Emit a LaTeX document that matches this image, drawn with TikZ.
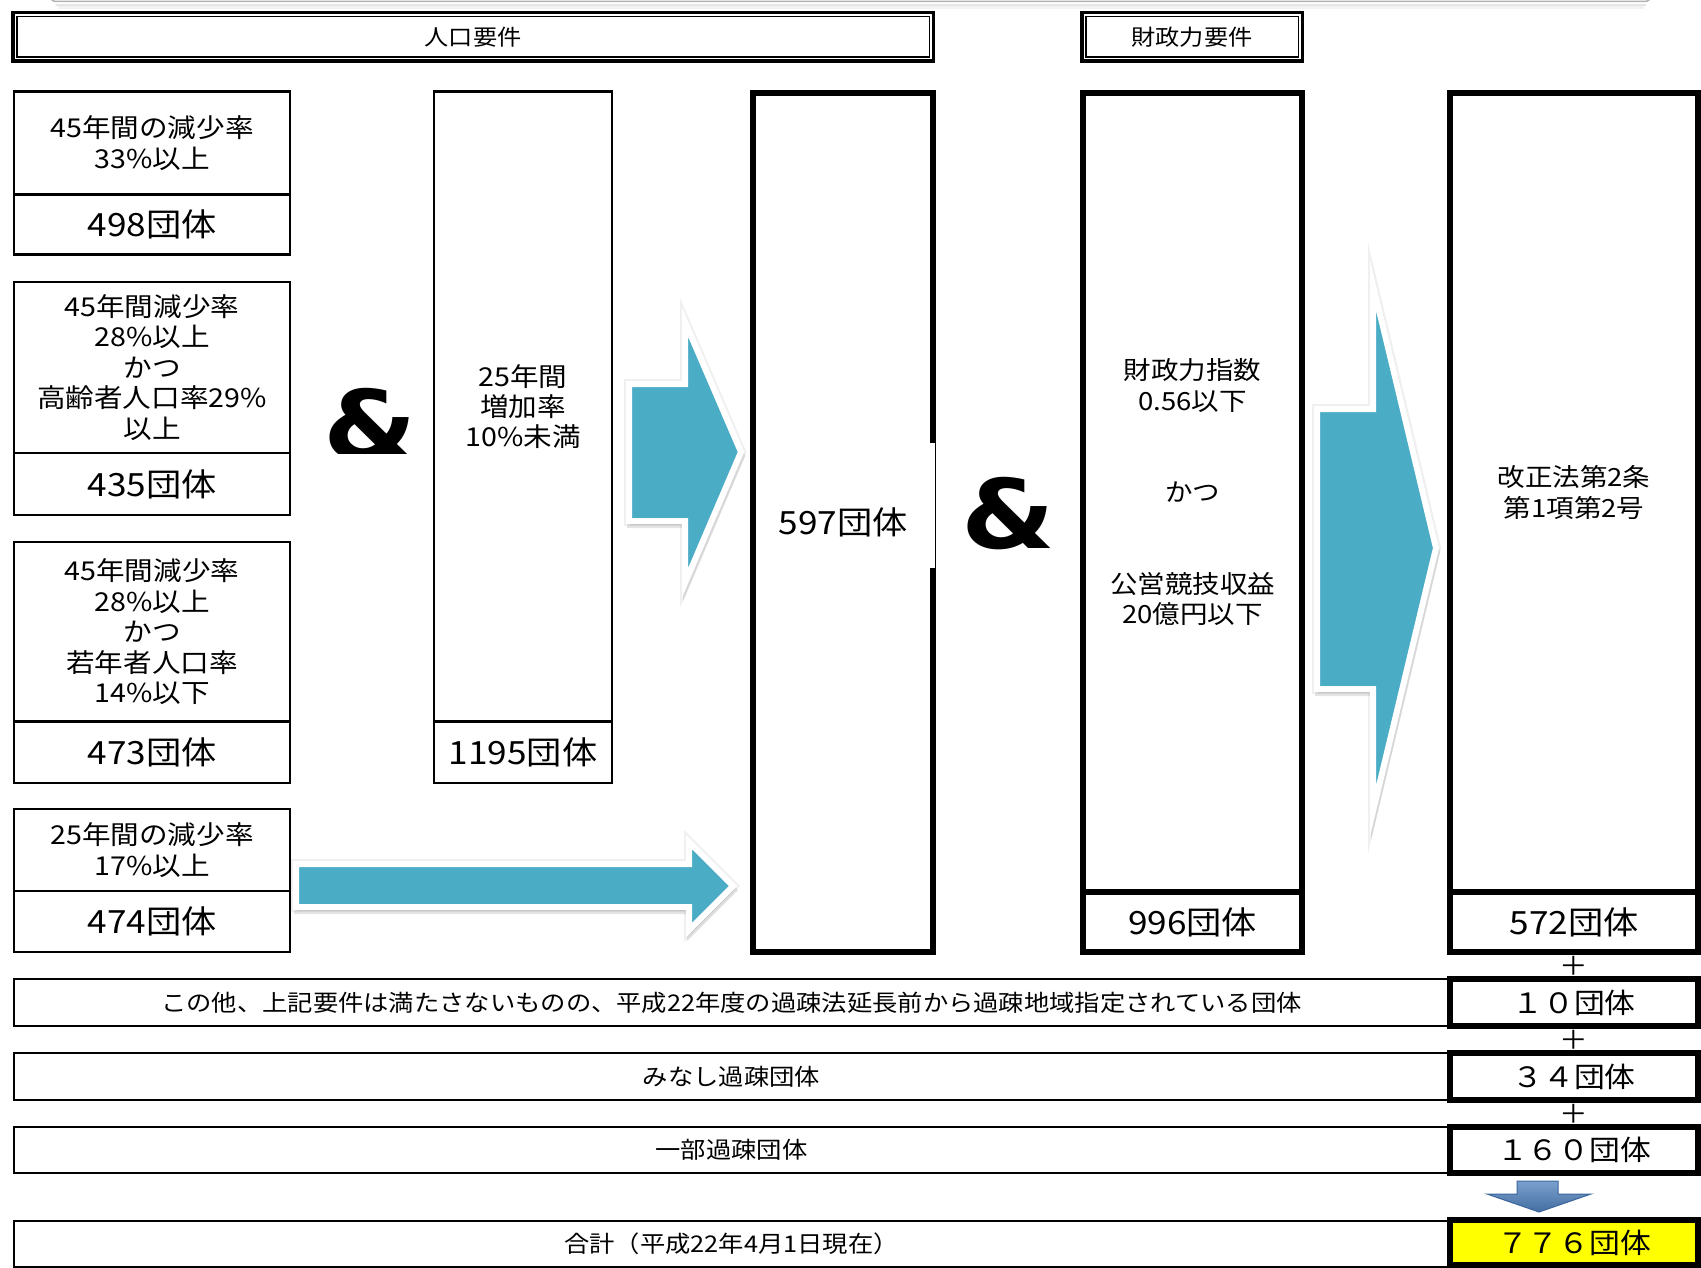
\documentclass[tikz,border=0pt]{standalone}
\usepackage{fontspec}
\setmainfont{Noto Sans CJK JP}[FakeStretch=1.1]
\newfontfamily\ampfont{DejaVu Sans}[FakeStretch=1.12]
\usetikzlibrary{calc}
\definecolor{arrowteal}{HTML}{4BACC6}
\definecolor{downblue}{HTML}{4F81BD}
\definecolor{downedge}{HTML}{3B679E}
\definecolor{hiyellow}{HTML}{FFFF00}
\newcommand\fsz[2]{\fontsize{#1}{#2}\selectfont}
\tikzset{
  thinbox/.style={draw=black, line width=2.5pt, fill=white, rectangle, inner sep=0pt, align=center},
  thickbox/.style={draw=black, line width=6pt, fill=white, rectangle, inner sep=0pt, align=center},
  headbox/.style={draw=black, line width=3.5pt, fill=white, rectangle, inner sep=0pt, align=center, font=\fsz{22}{26}},
  smalltxt/.style={font=\fsz{26}{30.4}},
  midtxt/.style={font=\fsz{25}{30.6}},
  bigtxt/.style={font=\fsz{32}{36}},
  rowtxt/.style={font=\fsz{23}{28}},
  sumtxt/.style={font=\fsz{28}{32}},
  blockarrow/.style={fill=arrowteal, draw=white, line width=6pt, line join=miter, miter limit=12},
  arrowshade/.style={fill=black, draw=black, line width=6pt, line join=miter, miter limit=12, opacity=0.10},
  arrowglow/.style={draw=black, line width=10pt, line join=miter, miter limit=12, opacity=0.06},
  ampsym/.style={font=\ampfont\bfseries\fsz{96}{96}, inner sep=0pt, anchor=base},
  plussym/.style={font=\fsz{26}{26}, inner sep=0pt}
}
\begin{document}
\begin{tikzpicture}[x=1pt,y=-1pt]
\useasboundingbox (0,0) rectangle (1701,1268);
\fill[white] (0,0) rectangle (1701,1268);

% top edge of a shape above (cut off)
\draw[black, opacity=0.10, line width=2.5pt] (56,5) -- (1646,5);
\draw[black, opacity=0.05, line width=2.5pt] (58,7.5) -- (1644,7.5);
\draw[gray!60, line width=1.5pt, rounded corners=6pt] (50,-30) -- (50,1.5) -- (1651,1.5) -- (1651,-30);

% headers
\node[headbox, minimum width=920.5pt, minimum height=48.5pt] (h1) at (473,37) {人口要件};
\draw[line width=1.5pt] ($(h1.north west)+(5.75,5.75)$) rectangle ($(h1.south east)+(-5.75,-5.75)$);
\node[headbox, minimum width=220.5pt, minimum height=48.5pt] (h2) at (1192,37) {財政力要件};
\draw[line width=1.5pt] ($(h2.north west)+(5.75,5.75)$) rectangle ($(h2.south east)+(-5.75,-5.75)$);

% left column
\node[thinbox, smalltxt, minimum width=276pt, minimum height=103pt] (l1a) at (152,143) {45年間の減少率\\33\%以上};
\node[thinbox, bigtxt, minimum width=276pt, minimum height=60pt] (l1b) at (152,224.5) {498団体};
\node[thinbox, smalltxt, minimum width=276pt, minimum height=171pt] (l2a) at (152,367.5) {45年間減少率\\28\%以上\\かつ\\高齢者人口率29\%\\以上};
\node[thinbox, bigtxt, minimum width=276pt, minimum height=62pt] (l2b) at (152,484) {435団体};
\node[thinbox, smalltxt, minimum width=276pt, minimum height=179.5pt] (l3a) at (152,631.75) {45年間減少率\\28\%以上\\かつ\\若年者人口率\\14\%以下};
\node[thinbox, bigtxt, minimum width=276pt, minimum height=61.5pt] (l3b) at (152,752.25) {473団体};
\node[thinbox, smalltxt, minimum width=276pt, minimum height=82pt] (l4a) at (152,850) {25年間の減少率\\17\%以上};
\node[thinbox, bigtxt, minimum width=276pt, minimum height=61pt] (l4b) at (152,921.5) {474団体};

% 1195 column
\node[thinbox, smalltxt, minimum width=178pt, minimum height=630pt] (m1a) at (523,406.5) {25年間\\増加率\\10\%未満};
\node[thinbox, bigtxt, minimum width=178pt, minimum height=61.5pt] (m1b) at (523,752.25) {1195団体};

% ampersand 1 (clipped at bottom)
\begin{scope}
\clip (300,360) rectangle (440,453.5);
\node[ampsym] (amp1) at (370,459) {\&};
\end{scope}

% 597 column
\node[thickbox, bigtxt, minimum width=180pt, minimum height=859pt] (c597) at (843,522.5) {597団体};
\fill[white] (928.5,443) rectangle (934.8,568);

% ampersand 2
\node[ampsym] (amp2) at (1008,548) {\&};

% 996 column
\node[thickbox, midtxt, minimum width=219pt, minimum height=799pt] (f996a) at (1192.5,492.5) {財政力指数\\0.56以下\\[60.8pt]かつ\\[60.8pt]公営競技収益\\20億円以下};
\node[thickbox, bigtxt, minimum width=219pt, minimum height=60pt] (f996b) at (1192.5,922) {996団体};

% 572 column
\node[thickbox, midtxt, minimum width=248pt, minimum height=799pt] (r572a) at (1574,492.5) {改正法第2条\\第1項第2号};
\node[thickbox, bigtxt, minimum width=248pt, minimum height=60pt] (r572b) at (1574,922) {572団体};

% block arrows
\path[arrowglow] (629,384) -- (685,384) -- (685,322) -- (741,452) -- (685,583) -- (685,521) -- (629,521) -- cycle;
\path[arrowshade, shift={(1,4)}] (629,384) -- (685,384) -- (685,322) -- (741,452) -- (685,583) -- (685,521) -- (629,521) -- cycle;
\path[blockarrow] (629,384) -- (685,384) -- (685,322) -- (741,452) -- (685,583) -- (685,521) -- (629,521) -- cycle;

\path[arrowglow] (1317,409) -- (1373,409) -- (1373,285) -- (1436,548) -- (1373,811) -- (1373,689) -- (1317,689) -- cycle;
\path[arrowshade, shift={(1,4)}] (1317,409) -- (1373,409) -- (1373,285) -- (1436,548) -- (1373,811) -- (1373,689) -- (1317,689) -- cycle;
\path[blockarrow] (1317,409) -- (1373,409) -- (1373,285) -- (1436,548) -- (1373,811) -- (1373,689) -- (1317,689) -- cycle;

\path[arrowglow] (296,864) -- (689,864) -- (689,842) -- (733,886) -- (689,930) -- (689,907) -- (296,907) -- cycle;
\path[arrowshade, shift={(1,4)}] (296,864) -- (689,864) -- (689,842) -- (733,886) -- (689,930) -- (689,907) -- (296,907) -- cycle;
\path[blockarrow] (296,864) -- (689,864) -- (689,842) -- (733,886) -- (689,930) -- (689,907) -- (296,907) -- cycle;

% bottom rows
\node[thinbox, rowtxt, minimum width=1435pt, minimum height=47pt] (row1) at (731.5,1002.5) {この他、上記要件は満たさないものの、平成22年度の過疎法延長前から過疎地域指定されている団体};
\node[thinbox, rowtxt, minimum width=1435pt, minimum height=47pt] (row2) at (731.5,1076.5) {みなし過疎団体};
\node[thinbox, rowtxt, minimum width=1435pt, minimum height=46pt] (row3) at (731.5,1150) {一部過疎団体};
\node[thinbox, rowtxt, minimum width=1435pt, minimum height=46pt] (row4) at (731.5,1244) {合計（平成22年4月1日現在）};

\node[thickbox, sumtxt, minimum width=248pt, minimum height=47pt] (r10) at (1574,1002.5) {１０団体};
\node[thickbox, sumtxt, minimum width=248pt, minimum height=47pt] (r34) at (1574,1076.5) {３４団体};
\node[thickbox, sumtxt, minimum width=248pt, minimum height=46pt] (r160) at (1574,1150) {１６０団体};
\node[thickbox, sumtxt, fill=hiyellow, minimum width=248pt, minimum height=45pt] (r776) at (1574,1242.5) {７７６団体};

\node[plussym] (p1) at (1574,965.5) {＋};
\node[plussym] (p2) at (1574,1039.5) {＋};
\node[plussym] (p3) at (1574,1113.5) {＋};

% down arrow
\path[top color=downblue!75!white, bottom color=downblue!85!black, draw=downedge, line width=1pt, line join=miter]
  (1517,1181) -- (1558,1181) -- (1558,1194) -- (1591,1194) -- (1539,1212) -- (1487,1194) -- (1517,1194) -- cycle;
\end{tikzpicture}
\end{document}
